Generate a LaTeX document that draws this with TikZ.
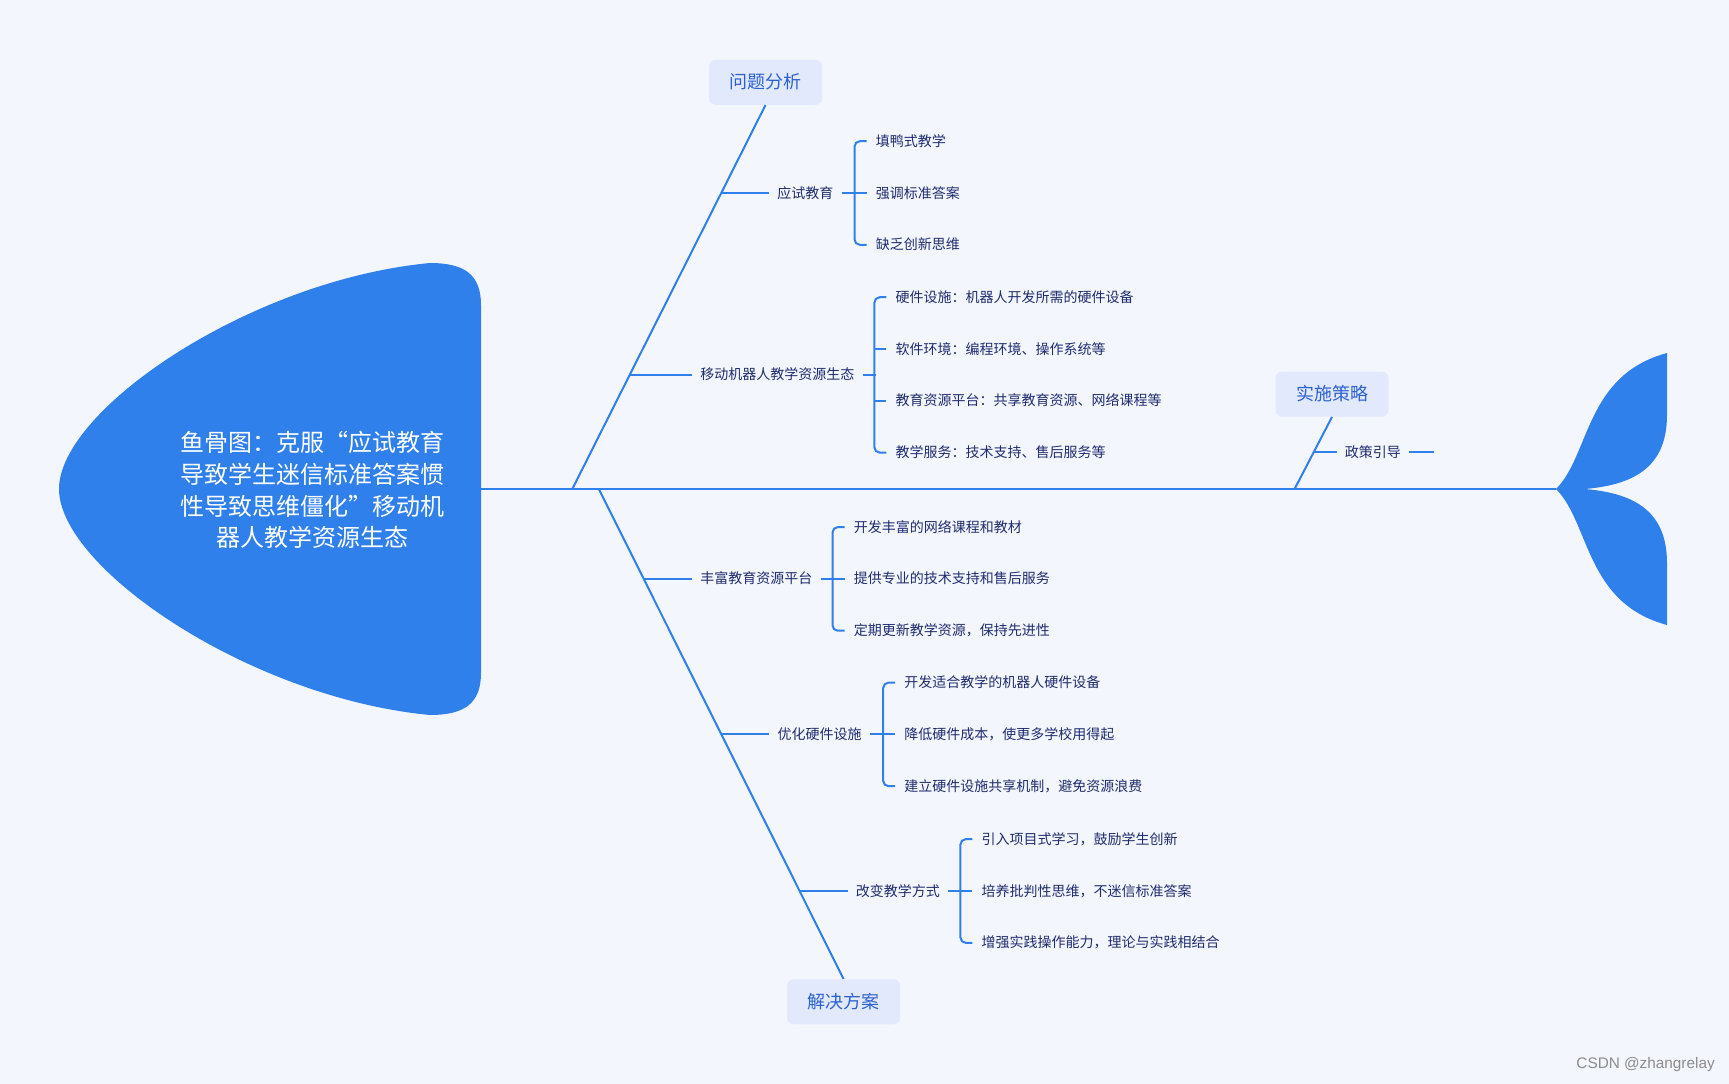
\documentclass[tikz,border=0pt]{standalone}
\usepackage{fontspec}
\newfontfamily\cjk{Noto Sans CJK SC}
\newfontfamily\wmfont{Liberation Sans}
\usetikzlibrary{calc}
\definecolor{bgc}{HTML}{F4F6FE}
\definecolor{fishblue}{HTML}{3080EB}
\definecolor{boxfill}{HTML}{E2E9FD}
\definecolor{boxtext}{HTML}{2B62D2}
\definecolor{itemtext}{HTML}{1F2C6E}
\begin{document}
\begin{tikzpicture}[x=0.75pt,y=-0.75pt,
  bone/.style={draw=fishblue, line width=1.5pt},
  catbox/.style={fill=boxfill, rounded corners=5pt, minimum width=84.75pt, minimum height=33.75pt, inner sep=0pt, text=boxtext, text height=10.8pt, text depth=1pt, font=\cjk\fontsize{13.5pt}{16pt}\selectfont},
  parent/.style={inner sep=0pt, anchor=west, text=itemtext, text height=8.4pt, text depth=0.8pt, font=\cjk\fontsize{10.5pt}{12pt}\selectfont},
  item/.style={parent}]

\fill[bgc] (0,0) rectangle (1729,1084);
\useasboundingbox (0,0) rectangle (1729,1084);

% head
\fill[fishblue] (59,489) .. controls (59,410) and (250,280) .. (430,263)
  .. controls (465,263) and (481,275) .. (481,305) -- (481,673)
  .. controls (481,703) and (465,715) .. (430,715)
  .. controls (250,698) and (59,568) .. (59,489) -- cycle;
\node[text=white, align=center, inner sep=0pt, font=\cjk\fontsize{18pt}{23.8pt}\selectfont] (title) at (312,490)
  {鱼骨图：克服“应试教育\\导致学生迷信标准答案惯\\性导致思维僵化”移动机\\器人教学资源生态};

% tail
\fill[fishblue] (1556,489) .. controls (1590,455) and (1585,375) .. (1667,353) -- (1667,415)
  .. controls (1667,470) and (1630,485) .. (1585,489)
  .. controls (1630,493) and (1667,508) .. (1667,563) -- (1667,625)
  .. controls (1585,603) and (1590,523) .. (1556,489) -- cycle;

% spine
\coordinate (s0) at (481,489);
\coordinate (s1) at (1556,489);
\draw[bone] (s0) -- (s1);

% category boxes
\node[catbox] (cat1) at (765.5,82.3) {问题分析};
\node[catbox] (cat2) at (1332,394.2) {实施策略};
\node[catbox] (cat3) at (843.6,1001.8) {解决方案};
\coordinate (r1) at (572.3,489);
\coordinate (r2) at (1294.6,489);
\coordinate (r3) at (598.8,489);
\draw[bone] (r1) -- (cat1.south);
\draw[bone] (r2) -- (cat2.south);
\draw[bone] (r3) -- (cat3.north);

% group 1
\node[parent] (p1) at (777,193) {应试教育};
\coordinate (j1) at (721,193);
\draw[bone] (j1) -- ($(p1.west)+(-8,0)$);
\node[item] (a1) at (875.5,141.2) {填鸭式教学};
\node[item] (a2) at (875.5,193) {强调标准答案};
\node[item] (a3) at (875.5,244.8) {缺乏创新思维};
\draw[bone] ($(p1.east)+(8,0)$) -- ($(a2.west)+(-21,0)$);
\draw[bone, rounded corners=4pt] ($(a1.west)+(-9,0)$) -- ($(a1.west)+(-21,0)$) -- ($(a3.west)+(-21,0)$) -- ($(a3.west)+(-9,0)$);
\draw[bone] ($(a2.west)+(-21,0)$) -- ($(a2.west)+(-9,0)$);

% group 2
\node[parent] (p2) at (700.2,374.9) {移动机器人教学资源生态};
\coordinate (j2) at (629.4,374.9);
\draw[bone] (j2) -- ($(p2.west)+(-8,0)$);
\node[item] (b1) at (895.4,297.2) {硬件设施：机器人开发所需的硬件设备};
\node[item] (b2) at (895.4,349) {软件环境：编程环境、操作系统等};
\node[item] (b3) at (895.4,400.8) {教育资源平台：共享教育资源、网络课程等};
\node[item] (b4) at (895.4,452.6) {教学服务：技术支持、售后服务等};
\draw[bone] ($(p2.east)+(8,0)$) -- ($(p2.east)+(21,0)$);
\draw[bone, rounded corners=4pt] ($(b1.west)+(-9,0)$) -- ($(b1.west)+(-21,0)$) -- ($(b4.west)+(-21,0)$) -- ($(b4.west)+(-9,0)$);
\draw[bone] ($(b2.west)+(-21,0)$) -- ($(b2.west)+(-9,0)$);
\draw[bone] ($(b3.west)+(-21,0)$) -- ($(b3.west)+(-9,0)$);

% group 3 (strategy)
\node[parent] (p3) at (1344.6,452.1) {政策引导};
\coordinate (j3) at (1313.5,452.1);
\draw[bone] (j3) -- ($(p3.west)+(-8,0)$);
\draw[bone] ($(p3.east)+(8,0)$) -- ($(p3.east)+(33,0)$);

% group 4
\node[parent] (p4) at (700.2,578.9) {丰富教育资源平台};
\coordinate (j4) at (643.9,578.9);
\draw[bone] (j4) -- ($(p4.west)+(-8,0)$);
\node[item] (c1) at (853.5,527.1) {开发丰富的网络课程和教材};
\node[item] (c2) at (853.5,578.9) {提供专业的技术支持和售后服务};
\node[item] (c3) at (853.5,630.7) {定期更新教学资源，保持先进性};
\draw[bone] ($(p4.east)+(8,0)$) -- ($(c2.west)+(-21,0)$);
\draw[bone, rounded corners=4pt] ($(c1.west)+(-9,0)$) -- ($(c1.west)+(-21,0)$) -- ($(c3.west)+(-21,0)$) -- ($(c3.west)+(-9,0)$);
\draw[bone] ($(c2.west)+(-21,0)$) -- ($(c2.west)+(-9,0)$);

% group 5
\node[parent] (p5) at (777.4,734.4) {优化硬件设施};
\coordinate (j5) at (721.5,734.4);
\draw[bone] (j5) -- ($(p5.west)+(-8,0)$);
\node[item] (d1) at (904.2,682.6) {开发适合教学的机器人硬件设备};
\node[item] (d2) at (904.2,734.4) {降低硬件成本，使更多学校用得起};
\node[item] (d3) at (904.2,786.2) {建立硬件设施共享机制，避免资源浪费};
\draw[bone] ($(p5.east)+(8,0)$) -- ($(d2.west)+(-21,0)$);
\draw[bone, rounded corners=4pt] ($(d1.west)+(-9,0)$) -- ($(d1.west)+(-21,0)$) -- ($(d3.west)+(-21,0)$) -- ($(d3.west)+(-9,0)$);
\draw[bone] ($(d2.west)+(-21,0)$) -- ($(d2.west)+(-9,0)$);

% group 6
\node[parent] (p6) at (855.7,891) {改变教学方式};
\coordinate (j6) at (799.6,891);
\draw[bone] (j6) -- ($(p6.west)+(-8,0)$);
\node[item] (e1) at (981.4,839.2) {引入项目式学习，鼓励学生创新};
\node[item] (e2) at (981.4,891) {培养批判性思维，不迷信标准答案};
\node[item] (e3) at (981.4,942.8) {增强实践操作能力，理论与实践相结合};
\draw[bone] ($(p6.east)+(8,0)$) -- ($(e2.west)+(-21,0)$);
\draw[bone, rounded corners=4pt] ($(e1.west)+(-9,0)$) -- ($(e1.west)+(-21,0)$) -- ($(e3.west)+(-21,0)$) -- ($(e3.west)+(-9,0)$);
\draw[bone] ($(e2.west)+(-21,0)$) -- ($(e2.west)+(-9,0)$);

% watermark
\node[anchor=east, inner sep=0pt, text=black!45, font=\wmfont\fontsize{11.5pt}{13pt}\selectfont] (wm) at (1715,1065) {CSDN @zhangrelay};
\end{tikzpicture}
\end{document}
